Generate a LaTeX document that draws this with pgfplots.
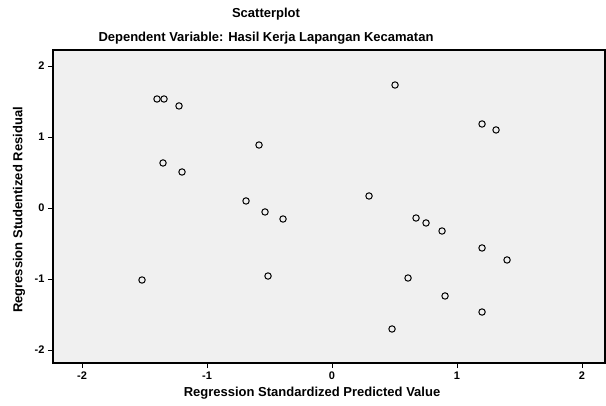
\documentclass[border=0pt]{standalone}
\usepackage{pgfplots}
\pgfplotsset{compat=1.18}
\usepackage{fontspec}
\setmainfont{Liberation Sans}
\begin{document}
\begin{tikzpicture}[x=1pt,y=1pt]
\useasboundingbox (0,0) rectangle (606,405);
\begin{axis}[
  at={(53pt,42pt)}, anchor=south west,
  scale only axis, width=552pt, height=313pt,
  xmin=-2.232, xmax=2.184, ymin=-2.183, ymax=2.225,
  axis background/.style={fill=black!6},
  axis line style={black, line width=1.3pt},
  xtick={-2,-1,0,1,2}, ytick={-2,-1,0,1,2},
  tick align=outside, tick style={black, line width=0.9pt},
  major tick length=5pt,
  xtick pos=bottom, ytick pos=left,
  ticklabel style={font=\fontsize{11}{12}\selectfont\bfseries},
  /pgf/number format/assume math mode=true,
  clip=false,
]
\addplot[only marks, mark=o, mark size=3.2pt, mark options={black, line width=1pt}] coordinates {
(-1.400,1.535) (-1.344,1.535) (-1.224,1.437) (-0.584,0.887)
(-1.352,0.634) (-1.200,0.507) (-0.688,0.099) (-0.536,-0.056)
(-0.392,-0.155) (-1.520,-1.014) (-0.512,-0.958)
(0.504,1.732) (1.200,1.183) (1.312,1.099) (0.296,0.169)
(0.672,-0.141) (0.752,-0.211) (0.880,-0.324) (1.200,-0.563)
(1.400,-0.732) (0.608,-0.986) (0.904,-1.239) (0.480,-1.704)
(1.200,-1.465)
};
\end{axis}
\tikzset{lab/.style={font=\fontsize{13}{15}\selectfont\bfseries}}
\node[lab] at (266,391) {Scatterplot};
\node[lab] at (266,367) {Dependent Variable: Hasil Kerja Lapangan Kecamatan};
\node[lab] at (312,12) {Regression Standardized Predicted Value};
\node[lab, rotate=90] at (19,195) {Regression Studentized Residual};
\end{tikzpicture}
\end{document}
